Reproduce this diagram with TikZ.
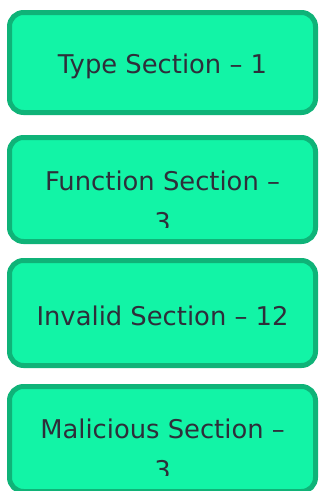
\documentclass[tikz,border=0pt]{standalone}
\usepackage{fontspec}
\setmainfont{DejaVu Sans}
\definecolor{boxfill}{HTML}{12F4A6}
\definecolor{boxline}{HTML}{0FB378}
\definecolor{boxtext}{HTML}{2E2E3A}
\tikzset{
  secbox/.style={draw=boxline, fill=boxfill, line width=5pt, rounded corners=14pt,
    minimum width=306pt, inner sep=0pt, anchor=north west},
  sectext/.style={text=boxtext, font=\fontsize{25.8pt}{41pt}\selectfont, align=center,
    inner sep=0pt, anchor=base}
}
\begin{document}
\begin{tikzpicture}[x=1pt,y=1pt]
\useasboundingbox (0,0) rectangle (320,-491);
\clip (0,0) rectangle (320,-491);
% boxes
\node[secbox, minimum height=100pt] (b1) at (7,-10) {};
\node[secbox, minimum height=104pt] (b2) at (7,-135) {};
\node[secbox, minimum height=105pt] (b3) at (7,-258) {};
\node[secbox, minimum height=105pt] (b4) at (7,-384) {};
% texts
\node[sectext] (t1) at (162.5,-73) {Type Section – 1};
\begin{scope}
  \clip (b2.north west) rectangle (b2.east |- 0,-227);
  \node[sectext] (t2) at (162.5,-231) {Function Section –\\3};
\end{scope}
\node[sectext] (t3) at (162.5,-325) {Invalid Section – 12};
\begin{scope}
  \clip (b4.north west) rectangle (b4.east |- 0,-475);
  \node[sectext] (t4) at (162.5,-479) {Malicious Section –\\3};
\end{scope}
\end{tikzpicture}
\end{document}
